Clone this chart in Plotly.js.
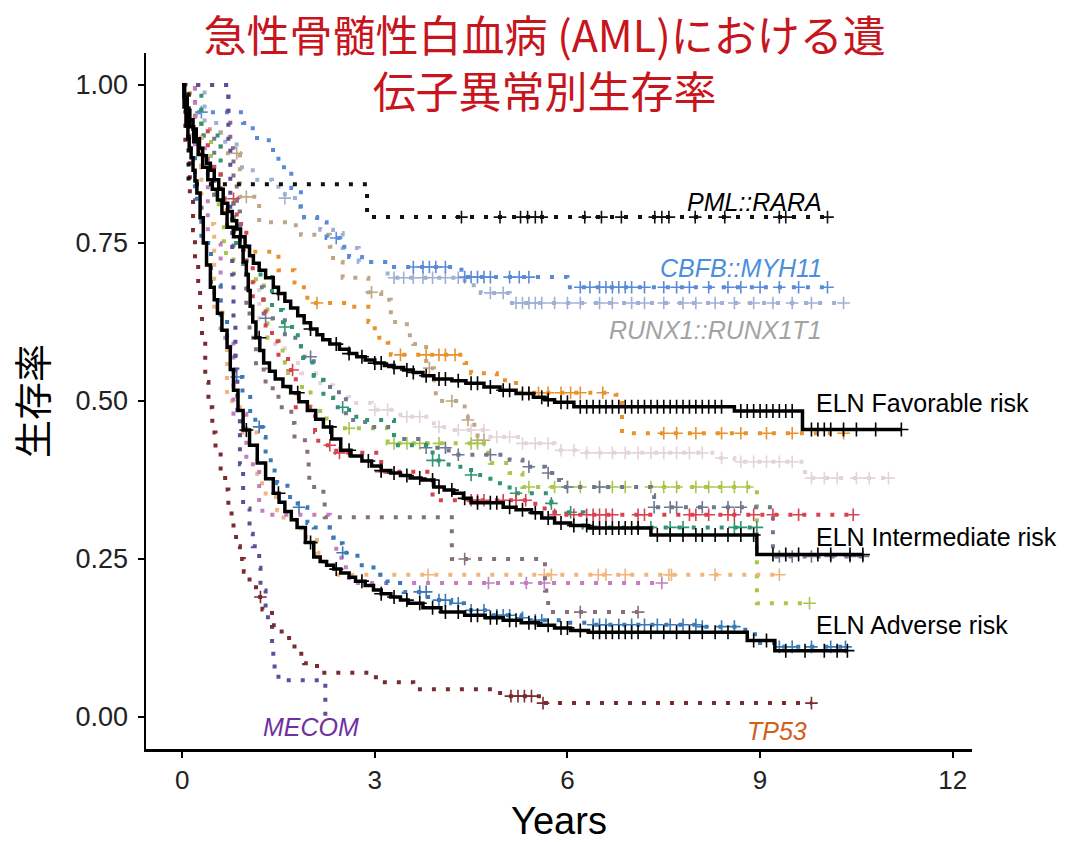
<!DOCTYPE html>
<html>
<head>
<meta charset="utf-8">
<script src="https://cdn.plot.ly/plotly-3.0.1.min.js"></script>
<style>html,body{margin:0;padding:0;background:#fff;}#chart{width:1070px;height:842px;}</style>
</head>
<body>
<div id="chart"></div>
<script>
// ---------- DATA (years, survival probability, censor times) ----------
const xTicks = [0, 3, 6, 9, 12];
const yTicks = [0, 0.25, 0.5, 0.75, 1];
const yTickText = ['0.00', '0.25', '0.50', '0.75', '1.00'];

// ELN risk groups (solid black)
const favT = [0,0.04,0.08,0.12,0.17,0.22,0.27,0.32,0.38,0.44,0.5,0.57,0.64,0.71,0.78,0.85,0.91,0.98,1.05,1.11,1.2,1.3,1.42,1.5,1.6,1.69,1.8,1.9,2.0,2.1,2.19,2.3,2.45,2.6,2.72,2.85,3.0,3.15,3.3,3.45,3.6,3.75,3.92,4.2,4.42,4.7,4.95,5.2,5.47,5.65,5.8,6.1,8.6,9.66,11.2];
const favS = [1,0.98,0.96,0.945,0.93,0.915,0.9,0.888,0.876,0.865,0.85,0.835,0.813,0.8,0.785,0.772,0.76,0.745,0.73,0.718,0.707,0.695,0.68,0.67,0.658,0.647,0.635,0.624,0.614,0.605,0.597,0.59,0.582,0.575,0.57,0.565,0.56,0.556,0.553,0.549,0.545,0.54,0.535,0.532,0.528,0.522,0.517,0.512,0.506,0.502,0.498,0.491,0.484,0.455,0.455];
const favC = [1.5,2.0,2.4,2.6,2.8,3.0,3.1,3.3,3.5,3.6,3.8,4.0,4.1,4.3,4.5,4.6,4.8,5.0,5.1,5.3,5.4,5.6,5.7,5.9,6.0,6.2,6.3,6.4,6.5,6.6,6.7,6.8,6.9,7.0,7.1,7.2,7.3,7.4,7.5,7.6,7.7,7.8,7.9,8.0,8.1,8.2,8.3,8.4,8.7,8.8,8.9,9.0,9.1,9.2,9.3,9.4,9.5,9.8,9.9,10.0,10.1,10.3,10.5,10.8,11.2];

const intT = [0,0.03,0.06,0.09,0.12,0.18,0.25,0.32,0.4,0.47,0.55,0.62,0.7,0.8,0.9,0.95,1.0,1.03,1.06,1.1,1.15,1.21,1.27,1.36,1.45,1.57,1.69,1.82,1.95,2.08,2.2,2.33,2.47,2.63,2.8,2.95,3.1,3.25,3.4,3.55,3.72,3.92,4.08,4.23,4.38,4.5,5.0,5.2,5.44,5.6,5.8,6.05,6.33,7.3,8.95,10.6];
const intS = [1,0.98,0.96,0.945,0.934,0.91,0.89,0.87,0.85,0.835,0.818,0.797,0.775,0.76,0.744,0.72,0.7,0.675,0.65,0.625,0.6,0.58,0.56,0.547,0.535,0.523,0.513,0.499,0.485,0.471,0.459,0.44,0.422,0.413,0.405,0.397,0.39,0.386,0.382,0.378,0.375,0.364,0.359,0.354,0.346,0.339,0.332,0.328,0.323,0.315,0.307,0.303,0.299,0.288,0.257,0.257];
const intC = [1.2,1.8,2.3,2.6,2.9,3.1,3.3,3.5,3.7,3.9,4.0,4.2,4.4,4.6,4.8,4.9,5.1,5.3,5.5,5.7,5.9,6.1,6.3,6.4,6.5,6.6,6.7,6.8,6.9,7.0,7.1,7.4,7.6,7.8,8.0,8.1,8.3,8.5,8.7,8.9,9.2,9.4,9.6,9.9,10.1,10.4,10.6];

const advT = [0,0.03,0.06,0.09,0.11,0.14,0.17,0.2,0.23,0.28,0.33,0.38,0.44,0.5,0.55,0.62,0.7,0.75,0.8,0.87,0.95,1.05,1.17,1.3,1.42,1.51,1.6,1.7,1.79,1.92,2.05,2.15,2.25,2.36,2.47,2.6,2.7,2.85,2.98,3.1,3.25,3.4,3.52,3.75,4.03,4.4,4.72,5.0,5.28,5.55,5.8,6.05,6.33,8.8,9.23,10.36];
const advS = [1,0.965,0.935,0.915,0.9,0.885,0.865,0.848,0.829,0.79,0.75,0.715,0.68,0.66,0.639,0.612,0.585,0.55,0.517,0.485,0.454,0.43,0.402,0.377,0.354,0.34,0.325,0.312,0.3,0.276,0.253,0.246,0.24,0.234,0.228,0.221,0.215,0.208,0.201,0.195,0.19,0.185,0.18,0.173,0.166,0.161,0.157,0.153,0.149,0.145,0.141,0.137,0.134,0.121,0.105,0.105];
const advC = [1.0,1.5,2.0,2.4,2.8,3.1,3.3,3.5,3.7,3.9,4.1,4.3,4.5,4.6,4.8,4.9,5.1,5.2,5.4,5.5,5.7,5.9,6.0,6.2,6.4,6.5,6.6,6.7,6.8,6.9,7.0,7.1,7.3,7.5,7.7,7.9,8.1,8.3,8.5,8.9,9.1,9.4,9.7,10.0,10.2,10.36];

// PML::RARA
const pmlT = [0,0.1,2.88,10.05];
const pmlS = [1,0.843,0.791,0.791];
const pmlC = [4.35,4.95,5.27,5.38,5.5,5.6,6.27,6.53,6.84,7.36,7.47,7.58,7.99,8.45,9.3,9.4,10.05];

// CBFB::MYH11
const cbfT = [0,0.1,0.95,1.1,1.35,1.5,1.7,1.85,2.1,2.25,2.45,2.6,2.8,3.3,4.35,6.0,10.05];
const cbfS = [1,0.957,0.94,0.916,0.897,0.87,0.837,0.791,0.783,0.758,0.744,0.728,0.72,0.712,0.696,0.68,0.68];
const cbfC = [0.3,2.4,3.6,3.75,3.85,3.95,4.1,4.4,4.5,4.6,4.7,4.8,5.1,5.25,5.4,6.2,6.35,6.5,6.6,6.7,6.8,6.9,7.0,7.2,7.5,7.7,7.9,8.2,8.5,8.7,9.0,9.3,9.6,10.05];

// RUNX1::RUNX1T1
const runT = [0,0.35,0.6,0.85,0.9,1.1,1.4,1.6,1.8,1.9,2.15,2.35,2.5,2.75,3.2,4.4,4.65,5.1,10.3];
const runS = [1,0.94,0.91,0.894,0.87,0.85,0.839,0.821,0.807,0.79,0.771,0.766,0.742,0.72,0.695,0.683,0.671,0.655,0.655];
const runC = [1.6,3.3,3.45,3.6,3.75,3.9,4.1,4.3,4.8,5.0,5.2,5.3,5.4,5.5,5.6,5.8,6.0,6.2,6.5,6.7,7.0,7.2,7.5,7.8,8.0,8.3,8.6,8.9,9.2,9.5,9.8,10.3];

// orange group
const orgT = [0,0.05,0.2,0.3,0.5,0.7,0.9,1.1,1.5,1.75,1.95,2.6,2.9,3.0,3.2,3.25,4.4,4.5,4.9,5.2,6.75,6.85,10.3];
const orgS = [1,0.987,0.93,0.87,0.82,0.77,0.745,0.736,0.707,0.68,0.655,0.649,0.625,0.6,0.592,0.573,0.56,0.544,0.533,0.513,0.51,0.449,0.449];
const orgC = [2.1,3.4,3.8,4.0,4.1,4.25,5.4,5.55,5.7,5.9,6.05,6.2,6.55,7.5,7.7,8.0,8.4,8.7,9.1,9.5,10.3];

// tan group
const tanT = [0,0.1,0.3,0.6,0.9,1.2,1.7,1.85,2.3,2.35,2.5,2.9,3.1,3.25,3.5,3.6,3.8,3.92,3.95,4.4,4.45,4.55,4.6,4.7];
const tanS = [1,0.96,0.93,0.892,0.823,0.783,0.778,0.763,0.744,0.72,0.695,0.672,0.66,0.625,0.604,0.59,0.552,0.533,0.5,0.486,0.47,0.451,0.438,0.438];
const tanC = [0.85,1.0,2.95,3.85,4.2,4.45,4.6,4.7];

// light pink group
const pnkT = [0,0.2,0.4,0.6,0.8,1.0,1.2,1.4,1.6,1.85,2.15,2.35,2.6,2.95,3.4,3.92,4.2,4.8,5.3,5.8,6.3,8.3,8.6,9.7,11.0];
const pnkS = [1,0.93,0.87,0.8,0.75,0.69,0.63,0.59,0.56,0.544,0.525,0.506,0.497,0.486,0.475,0.459,0.454,0.443,0.433,0.422,0.418,0.41,0.404,0.378,0.378];
const pnkC = [3.0,3.2,3.5,3.7,4.0,4.3,4.5,4.7,4.9,5.1,5.3,5.5,5.7,5.9,6.1,6.3,6.5,6.7,6.9,7.1,7.3,7.5,7.7,7.9,8.1,8.4,8.7,8.9,9.1,9.3,9.5,9.8,10.0,10.2,10.5,10.7,11.0];

// yellow-green group
const ygT = [0,0.1,0.3,0.45,0.57,0.65,0.8,1.15,1.27,1.33,1.5,1.6,1.65,2.0,2.15,2.25,3.2,4.7,4.8,5.1,5.3,8.95,9.77];
const ygS = [1,0.952,0.913,0.829,0.797,0.734,0.70,0.69,0.652,0.6,0.58,0.55,0.522,0.49,0.48,0.457,0.433,0.418,0.402,0.386,0.364,0.18,0.18];
const ygC = [2.6,3.3,3.5,3.7,4.0,4.5,4.6,5.4,5.8,6.0,6.2,6.5,6.7,6.9,7.3,7.5,7.7,8.0,8.2,8.4,8.6,8.8,9.77];

// slate group
const slT = [0,0.2,0.5,0.8,1.0,1.27,1.6,1.85,2.05,2.2,2.35,2.55,2.85,3.3,3.8,4.15,5.1,5.3,5.65,5.8,5.9,7.3,7.35,9.2,10.6];
const slS = [1,0.92,0.82,0.74,0.68,0.631,0.6,0.57,0.54,0.522,0.514,0.47,0.459,0.44,0.426,0.415,0.407,0.396,0.386,0.375,0.364,0.351,0.332,0.254,0.254];
const slC = [1.3,2.0,3.8,4.1,4.3,4.8,5.4,5.7,6.0,6.5,7.35,7.6,7.7,8.1,8.5,8.7,9.3,9.5,9.8,10.1,10.4,10.6];

// red group
const rdT = [0,0.2,0.4,0.6,0.85,1.0,1.1,1.3,1.4,1.5,1.65,1.77,2.07,2.12,2.4,3.1,3.9,5.5,5.8,10.45];
const rdS = [1,0.93,0.87,0.82,0.78,0.72,0.66,0.612,0.594,0.57,0.549,0.49,0.451,0.43,0.418,0.388,0.343,0.33,0.32,0.32];
const rdC = [0.8,1.72,2.3,2.45,3.1,4.5,4.6,4.7,5.0,5.2,5.35,5.8,6.1,6.3,6.4,6.5,6.6,6.7,7.1,7.2,7.9,8.0,8.2,8.5,8.6,8.9,9.2,9.6,10.45];

// teal group
const tlT = [0,0.3,0.6,0.8,1.0,1.4,1.57,1.77,1.85,2.03,2.05,2.2,2.35,2.6,2.8,3.3,3.9,4.15,4.5,4.8,5.1,5.75,5.8,6.25,8.95];
const tlS = [1,0.92,0.82,0.75,0.7,0.644,0.617,0.604,0.568,0.549,0.533,0.505,0.49,0.475,0.47,0.43,0.406,0.396,0.383,0.37,0.354,0.338,0.324,0.300,0.300];
const tlC = [1.6,2.5,3.9,4.0,4.5,5.2,5.75,6.05,7.1,7.3,7.6,7.8,8.6,8.7,8.95];

// peach group
const pcT = [0,0.1,0.3,0.5,0.7,0.9,1.17,1.3,1.48,1.58,1.85,2.1,2.2,2.4,9.3];
const pcS = [1,0.92,0.78,0.64,0.5,0.45,0.37,0.348,0.327,0.312,0.285,0.26,0.24,0.225,0.225];
const pcC = [3.83,5.64,5.75,6.48,6.6,6.9,7.58,7.62,8.3,9.3];

// orchid group
const orT = [0,0.2,0.4,0.6,0.8,1.0,1.2,1.25,2.3,2.35,2.4,2.55,2.7,7.47];
const orS = [1,0.9,0.75,0.6,0.48,0.4,0.34,0.32,0.29,0.27,0.252,0.22,0.212,0.212];
const orC = [4.77,5.36,5.64,7.47];

// steel blue group
const sbT = [0,0.1,0.2,0.3,0.45,0.6,0.7,0.75,0.83,0.94,1.06,1.14,1.25,1.3,1.38,1.48,1.64,1.8,1.95,2.05,2.36,2.5,2.73,2.98,3.2,3.45,3.83,4.19,4.39,4.77,5.28,5.39,5.95,6.33,8.1,8.77,8.92,9.3,10.33];
const sbS = [1,0.9,0.82,0.75,0.683,0.63,0.6,0.575,0.538,0.512,0.48,0.459,0.443,0.41,0.39,0.37,0.348,0.332,0.307,0.3,0.275,0.26,0.24,0.225,0.212,0.198,0.185,0.18,0.169,0.161,0.157,0.153,0.149,0.146,0.143,0.135,0.117,0.111,0.111];
const sbC = [0.85,1.2,1.82,2.5,3.7,3.8,4.0,4.1,4.3,4.5,4.7,4.9,5.0,5.1,5.3,5.5,5.6,6.4,6.5,6.6,6.8,7.0,7.2,7.4,7.6,7.8,8.0,8.1,8.4,8.6,9.3,9.5,9.8,10.1,10.33];

// mauve group
const mvT = [0,0.72,0.75,0.8,0.85,0.9,0.95,1.0,1.05,1.15,1.3,1.5,1.7,1.75,1.95,1.97,1.98,2.2,2.22,4.2,5.65,5.67,5.7,7.1];
const mvS = [1,0.95,0.9,0.85,0.8,0.75,0.7,0.65,0.6,0.55,0.52,0.49,0.465,0.438,0.41,0.39,0.364,0.343,0.316,0.25,0.2,0.188,0.166,0.166];
const mvC = [4.4,6.2,7.1];

// MECOM
const meT = [0,0.72,0.75,0.78,0.8,0.83,0.86,0.9,0.95,1.05,1.1,1.2,1.22,1.3,1.4,1.42,1.44,1.5,2.23];
const meS = [1,0.9,0.8,0.7,0.62,0.55,0.48,0.4,0.33,0.29,0.27,0.236,0.2,0.158,0.117,0.09,0.071,0.058,0];
const meC = [];

// TP53
const tpT = [0,0.05,0.12,0.17,0.2,0.25,0.28,0.31,0.36,0.41,0.47,0.52,0.6,0.67,0.72,0.77,0.8,0.84,0.9,0.96,1.05,1.15,1.25,1.4,1.55,1.75,1.9,2.1,2.9,3.1,3.6,4.9,5.05,5.6,9.8];
const tpS = [1,0.9,0.82,0.77,0.72,0.68,0.64,0.6,0.53,0.49,0.45,0.42,0.39,0.36,0.33,0.31,0.29,0.27,0.25,0.23,0.21,0.19,0.17,0.145,0.125,0.1,0.085,0.07,0.063,0.055,0.044,0.038,0.033,0.022,0.022];
const tpC = [1.22,5.12,5.23,5.33,5.44,5.62,9.8];

// ---------- DRAWING ----------
function stepAt(T, S, t) {
  let v = S[0];
  for (let i = 0; i < T.length; i++) { if (T[i] <= t) v = S[i]; else break; }
  return v;
}
const dotted = [
  {T: pnkT, S: pnkS, C: pnkC, color: '#e3d3da'},
  {T: runT, S: runS, C: runC, color: '#9fb0d6'},
  {T: tanT, S: tanS, C: tanC, color: '#bfa688'},
  {T: orgT, S: orgS, C: orgC, color: '#e8922b'},
  {T: cbfT, S: cbfS, C: cbfC, color: '#5b8ad8'},
  {T: ygT,  S: ygS,  C: ygC,  color: '#a9c64c'},
  {T: slT,  S: slS,  C: slC,  color: '#6f7891'},
  {T: tlT,  S: tlS,  C: tlC,  color: '#2f9472'},
  {T: rdT,  S: rdS,  C: rdC,  color: '#d8414f'},
  {T: pcT,  S: pcS,  C: pcC,  color: '#f1b47c'},
  {T: orT,  S: orS,  C: orC,  color: '#c17fbf'},
  {T: mvT,  S: mvS,  C: mvC,  color: '#86707f'},
  {T: sbT,  S: sbS,  C: sbC,  color: '#3979b6'},
  {T: meT,  S: meS,  C: meC,  color: '#5d4f99'},
  {T: tpT,  S: tpS,  C: tpC,  color: '#7a2b30'},
  {T: pmlT, S: pmlS, C: pmlC, color: '#111111'}
];
const solid = [
  {T: favT, S: favS, C: favC},
  {T: intT, S: intS, C: intC},
  {T: advT, S: advS, C: advC}
];
const traces = [];
dotted.forEach(s => {
  traces.push({x: s.T, y: s.S, type: 'scatter', mode: 'lines', line: {shape: 'hv', color: s.color, width: 4, dash: '4px,10px'}, hoverinfo: 'skip', showlegend: false});
  if (s.C.length) traces.push({x: s.C, y: s.C.map(t => stepAt(s.T, s.S, t)), type: 'scatter', mode: 'markers',
    marker: {symbol: 'cross-thin', size: 9, line: {color: s.color, width: 1.6}}, hoverinfo: 'skip', showlegend: false});
});
solid.forEach(s => {
  traces.push({x: s.T, y: s.S, type: 'scatter', mode: 'lines', line: {shape: 'hv', color: '#000', width: 3.5}, hoverinfo: 'skip', showlegend: false});
  traces.push({x: s.C, y: s.C.map(t => stepAt(s.T, s.S, t)), type: 'scatter', mode: 'markers',
    marker: {symbol: 'cross-thin', size: 10, line: {color: '#000', width: 1.6}}, hoverinfo: 'skip', showlegend: false});
});

const lab = 'Liberation Sans, Arial, sans-serif';
const ann = (text, x, y, xanchor, color, italic) => ({text: italic ? '<i>' + text + '</i>' : text, x: x, y: y, xref: 'x', yref: 'y',
  xanchor: xanchor, yanchor: 'middle', showarrow: false, font: {family: lab, size: 25, color: color}});

const layout = {
  width: 1070, height: 842,
  paper_bgcolor: '#fff', plot_bgcolor: '#fff',
  margin: {l: 146, r: 98, t: 53, b: 93},
  title: {text: '急性骨髄性白血病 (AML)における遺<br>伝子異常別生存率', x: 0.509, xref: 'container', xanchor: 'center',
    y: 0.938, yref: 'container', yanchor: 'top',
    font: {family: 'Noto Sans CJK JP, sans-serif', size: 43, color: '#c8141c'}},
  xaxis: {range: [-0.5625, 12.3], tickvals: xTicks, ticks: 'outside', ticklen: 6, tickwidth: 2, tickcolor: '#000',
    showline: true, linewidth: 2.5, linecolor: '#000', showgrid: false, zeroline: false, ticklabelstandoff: 0,
    tickfont: {family: lab, size: 26, color: '#222'},
    title: {text: 'Years', font: {family: lab, size: 38, color: '#000'}, standoff: 36}},
  yaxis: {range: [-0.0506, 1.0506], tickvals: yTicks, ticktext: yTickText, ticks: 'outside', ticklen: 6, tickwidth: 2, tickcolor: '#000',
    showline: true, linewidth: 2.5, linecolor: '#000', showgrid: false, zeroline: false, ticklabelstandoff: 4,
    tickfont: {family: lab, size: 27, color: '#222'},
    title: {text: '生存率', font: {family: 'Noto Sans CJK JP, sans-serif', size: 38, color: '#000'}, standoff: 16}},
  annotations: [
    ann('PML::RARA', 10.0, 0.815, 'right', '#000', true),
    ann('CBFB::MYH11', 10.0, 0.71, 'right', '#4a8fdc', true),
    ann('RUNX1::RUNX1T1', 10.0, 0.612, 'right', '#a3a3a3', true),
    ann('ELN Favorable risk', 9.84, 0.497, 'left', '#000', false),
    ann('ELN Intermediate risk', 9.84, 0.285, 'left', '#000', false),
    ann('ELN Adverse risk', 9.84, 0.146, 'left', '#000', false),
    ann('MECOM', 2.0, -0.016, 'center', '#7030a0', true),
    ann('TP53', 9.27, -0.022, 'center', '#d0601c', true)
  ]
};
Plotly.newPlot('chart', traces, layout, {staticPlot: true, displayModeBar: false});
</script>
</body>
</html>
